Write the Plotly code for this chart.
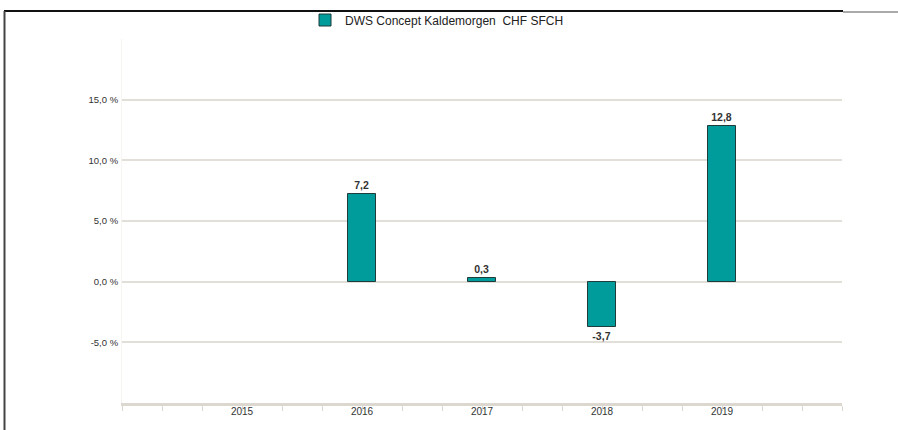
import plotly.graph_objects as go

years = [2015, 2016, 2017, 2018, 2019]
returns = [None, 7.2, 0.3, -3.7, 12.8]
series_name = "DWS Concept Kaldemorgen  CHF SFCH"
y_tick_vals = [-5, 0, 5, 10, 15, 20]
y_tick_text = ["-5,0 %", "0,0 %", "5,0 %", "10,0 %", "15,0 %", ""]

W, H = 898, 430
L, R, T, B = 122, 56, 39, 27
pw, ph = W - L - R, H - T - B

def px(x):
    return (x - L) / pw

def py(y):
    return (H - B - y) / ph

fig = go.Figure()
fig.add_trace(go.Bar(
    x=years, y=returns, name=series_name,
    width=0.233,
    marker=dict(color="#009b9b", line=dict(color="#1f3b3b", width=1)),
    texttemplate="%{y:.1f}", textposition="outside",
    textfont=dict(family="Liberation Sans, Arial", size=10.5, color="#333333", weight="bold"),
    cliponaxis=False,
    showlegend=True,
))

fig.update_layout(
    width=W, height=H,
    margin=dict(l=L, r=R, t=T, b=B, pad=0, autoexpand=False),
    paper_bgcolor="white", plot_bgcolor="white",
    separators=",.",
    font=dict(family="Liberation Sans, Arial", size=11, color="#333333"),
    showlegend=True,
    legend=dict(orientation="h", x=px(305), xanchor="left", y=py(20), yanchor="middle",
                font=dict(size=12, color="#222222"), bgcolor="rgba(0,0,0,0)"),
    bargap=0,
    xaxis=dict(
        range=[2014, 2020], tickmode="array", tickvals=years,
        ticktext=[str(y) for y in years],
        ticks="", showgrid=False, zeroline=False,
        showline=True, linecolor="#dcd8cf", linewidth=3,
        tickfont=dict(size=10, color="#333333"),
        ticklabelstandoff=-3,
        minor=dict(tick0=2014, dtick=1/3, ticks="outside", ticklen=5,
                   tickcolor="#dcd8cf", tickwidth=1, showgrid=False),
    ),
    yaxis=dict(
        range=[-10, 20], tickmode="array", tickvals=y_tick_vals, ticktext=y_tick_text,
        showgrid=True, gridcolor="#e2dfd8", gridwidth=2,
        zeroline=False, showline=True, linecolor="#f6f5f2", linewidth=1,
        ticks="", ticklabelstandoff=1,
        tickfont=dict(size=9.5, color="#333333"),
    ),
    shapes=[
        dict(type="line", xref="paper", yref="paper", x0=px(4), x1=px(843), y0=py(11), y1=py(11),
             line=dict(color="#111111", width=2)),
        dict(type="line", xref="paper", yref="paper", x0=px(843), x1=px(898), y0=py(12), y1=py(12),
             line=dict(color="#aaaaaa", width=2)),
        dict(type="line", xref="paper", yref="paper", x0=px(4.5), x1=px(4.5), y0=py(11), y1=py(431),
             line=dict(color="#444444", width=2)),
    ],
)

fig.write_html("out.html", config={"displayModeBar": False},
               post_script="document.body.style.margin='0';")
